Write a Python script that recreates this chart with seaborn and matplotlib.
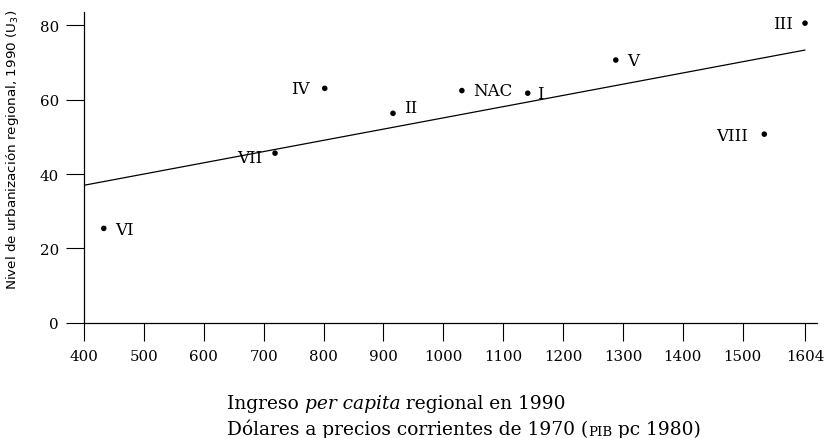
import numpy as np
import pandas as pd
import matplotlib
matplotlib.use("Agg")
import matplotlib.pyplot as plt
import seaborn as sns

# regiones y valores
regiones = ["I", "II", "III", "IV", "V", "VI", "VII", "VIII"]
ingreso = [1141, 916, 1604, 802, 1288, 433, 719, 1536]
urbanizacion = [61.7, 56.3, 80.5, 63.0, 70.6, 25.4, 45.6, 50.7]
nac_ingreso = 1031
nac_urbanizacion = 62.4

xticks = [400, 500, 600, 700, 800, 900, 1000, 1100, 1200, 1300, 1400, 1500, 1604]
yticks = [0, 20, 40, 60, 80]

# posicion de cada etiqueta respecto del punto (en puntos)
offsets = {"I": (7, 0, "left"), "II": (8, 4, "left"), "III": (-9, 0, "right"),
           "IV": (-11, 0, "right"), "V": (8, 0, "left"), "VI": (8, -1, "left"),
           "VII": (-9, -3, "right"), "VIII": (-11.5, -1, "right"), "NAC": (8, 0, "left")}

df = pd.DataFrame({"region": regiones, "ingreso": ingreso, "urb": urbanizacion})

sns.set_style("ticks")
for k in ["text.color", "axes.labelcolor", "xtick.color", "ytick.color", "axes.edgecolor"]:
    plt.rcParams[k] = "black"
serif = "DejaVu Serif"

fig = plt.figure(figsize=(8.26, 4.39), dpi=100)
ax = fig.add_axes([0.1017, 0.262, 0.8874, 0.7084])

# recta de regresion sobre las regiones, desde 400 hasta la ultima region
ax.set_xlim(400, max(ingreso))
sns.regplot(data=df, x="ingreso", y="urb", ax=ax, ci=None, scatter=False,
            truncate=False, line_kws={"color": "black", "lw": 0.9})

sns.scatterplot(x=ingreso + [nac_ingreso], y=urbanizacion + [nac_urbanizacion],
                ax=ax, color="black", s=16, edgecolor="none", zorder=3)

for name, xv, yv in zip(regiones + ["NAC"], ingreso + [nac_ingreso],
                        urbanizacion + [nac_urbanizacion]):
    dx, dy, ha = offsets[name]
    ax.annotate(name, (xv, yv), xytext=(dx, dy), textcoords="offset points",
                ha=ha, va="center", fontsize=12, family=serif)

ax.set_xlim(400, 1624)
ax.set_ylim(0, 83.5)
ax.set_xticks(xticks)
ax.set_xticklabels([str(t) for t in xticks], family=serif, fontsize=10.8)
ax.set_yticks(yticks)
ax.set_yticklabels([str(t) for t in yticks], family=serif, fontsize=10.8)
ax.tick_params(axis="both", direction="out", length=13, width=0.8)
ax.tick_params(axis="x", pad=6)
ax.tick_params(axis="y", pad=5)
for s in ["top", "right"]:
    ax.spines[s].set_visible(False)
for s in ["left", "bottom"]:
    ax.spines[s].set_linewidth(0.9)
ax.set_xlabel("")
ylab = ax.set_ylabel("Nivel de urbanización regional, 1990 (U$_3$)", fontsize=9,
                     family="DejaVu Sans")
ax.yaxis.set_label_coords(-0.086, 0.56)

# titulo del eje x en dos lineas, con cursiva y versalitas
fs = 12
t1 = fig.text(0.2748, 0.0683, "Ingreso ", family=serif, fontsize=fs, va="baseline")
t2 = ax.annotate("per capita", xy=(1, 0), xycoords=t1, va="bottom", ha="left",
                 family=serif, style="italic", fontsize=fs)
t3 = ax.annotate(" regional en 1990", xy=(1, 0), xycoords=t2, va="bottom", ha="left",
                 family=serif, fontsize=fs)
t4 = fig.text(0.2748, 0.0091, "Dólares a precios corrientes de 1970 (", family=serif,
              fontsize=fs, va="baseline")
t5 = ax.annotate("PIB", xy=(1, 0), xycoords=t4, va="bottom", ha="left",
                 family=serif, fontsize=fs * 0.72)
t6 = ax.annotate(" pc 1980)", xy=(1, 0), xycoords=t5, va="bottom", ha="left",
                 family=serif, fontsize=fs)

# ajustar tamanos para que los textos tengan el ancho del original
fig.canvas.draw()
r = fig.canvas.get_renderer()
w1 = t3.get_window_extent(r).x1 - t1.get_window_extent(r).x0
k = 338 / w1
for t in [t1, t2, t3, t4, t5, t6]:
    t.set_fontsize(t.get_fontsize() * k)
ylab.set_fontsize(9 * 280 / ylab.get_window_extent(r).height)

fig.savefig("out.png", dpi=100)
